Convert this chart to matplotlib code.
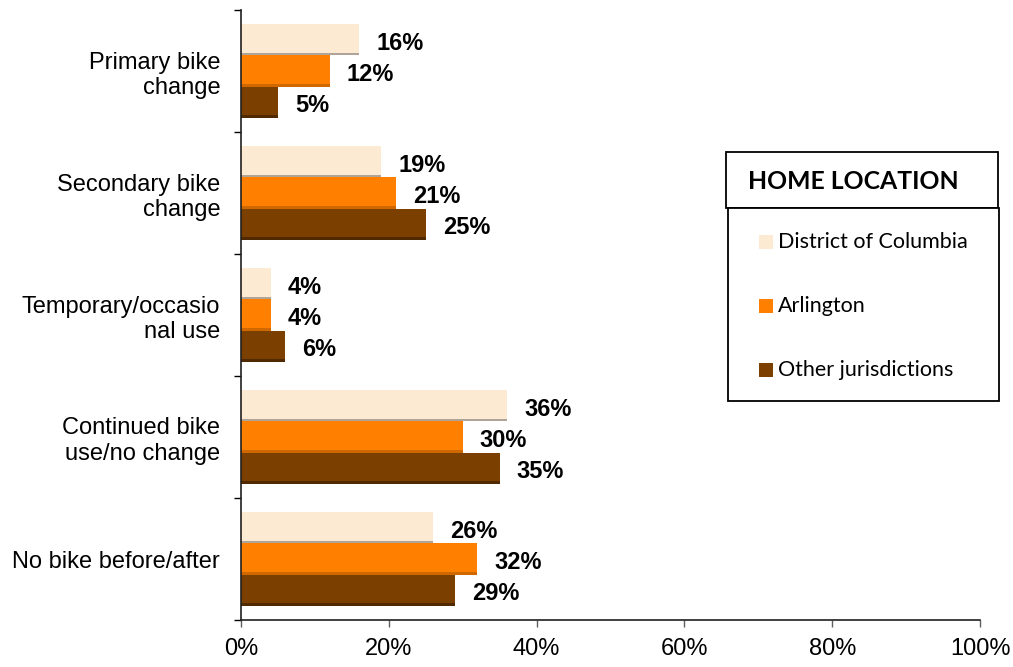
import numpy as np
import matplotlib
matplotlib.use('Agg')
import matplotlib.pyplot as plt
from matplotlib.patches import Rectangle

# data
categories = ['Primary bike\nchange', 'Secondary bike\nchange', 'Temporary/occasio\nnal use',
              'Continued bike\nuse/no change', 'No bike before/after']
series_names = ['District of Columbia', 'Arlington', 'Other jurisdictions']
dc_values = [16, 19, 4, 36, 26]
arlington_values = [12, 21, 4, 30, 32]
other_values = [5, 25, 6, 35, 29]
x_ticks = [0, 20, 40, 60, 80, 100]
legend_title = 'HOME LOCATION'

colors = ['#FDEAD2', '#FF8000', '#7B3F00']
shade = ['#B0A498', '#D06800', '#502900']

W, H = 1013, 667
fig = plt.figure(figsize=(W / 100, H / 100), dpi=100)
ax = fig.add_axes([241 / W, 1 - 620 / H, 739 / W, 610 / H])

y = np.arange(len(categories))
h = 0.255
all_series = [dc_values, arlington_values, other_values]
for i, (vals, name, col, sh) in enumerate(zip(all_series, series_names, colors, shade)):
    pos = y + (i - 1) * h
    ax.barh(pos, vals, height=h, color=col, edgecolor='none')
    # thin darker strip at bottom of each bar (bevel look)
    ax.barh(pos + h / 2 - 0.012, vals, height=0.024, color=sh, edgecolor='none')
    for p, v in zip(pos, vals):
        ax.text(v + 2.3, p + 0.03, f'{v}%', va='center', ha='left',
                fontsize=17, fontweight='bold', family='Liberation Sans')

ax.set_xlim(0, 100)
ax.set_ylim(len(categories) - 0.5, -0.5)
ax.set_xticks(x_ticks)
ax.set_xticklabels([f'{t}%' for t in x_ticks], fontsize=17, family='Liberation Sans')
ax.set_yticks(np.arange(len(categories) + 1) - 0.5)
ax.set_yticklabels([])
ax.set_yticks(y, minor=True)
ax.set_yticklabels(categories, minor=True, fontsize=17, family='Liberation Sans',
                   linespacing=1.22)
ax.tick_params(axis='y', which='minor', length=0, pad=15)
ax.tick_params(axis='y', which='major', length=5, width=1, direction='out')
ax.tick_params(axis='x', length=5, width=1, direction='out', pad=8, color='#606060')
for s in ['top', 'right']:
    ax.spines[s].set_visible(False)
for s in ['left', 'bottom']:
    ax.spines[s].set_color('#202020')
    ax.spines[s].set_linewidth(1.2)

# legend, drawn by hand: title box above a body box
def fx(px):
    return px / W

def fy(py):
    return 1 - py / H

fig.patches.append(Rectangle((fx(726), fy(208)), fx(998) - fx(726), fy(152) - fy(208),
                             transform=fig.transFigure, facecolor='white',
                             edgecolor='black', linewidth=1.3))
fig.patches.append(Rectangle((fx(728), fy(401)), fx(999) - fx(728), fy(208) - fy(401),
                             transform=fig.transFigure, facecolor='white',
                             edgecolor='black', linewidth=1.3))
fig.text(fx(748), fy(182), legend_title, fontsize=17.8, fontweight='bold',
         family='Lato', va='center', ha='left')
for k, (name, col) in enumerate(zip(series_names, colors)):
    cy = 242 + 64 * k
    fig.patches.append(Rectangle((fx(759), fy(cy + 7)), fx(773) - fx(759), fy(cy - 7) - fy(cy + 7),
                                 transform=fig.transFigure, facecolor=col, edgecolor='none'))
    fig.text(fx(778), fy(cy), name, fontsize=15.5, family='Lato', va='center', ha='left')

fig.savefig('out.png', dpi=100)
